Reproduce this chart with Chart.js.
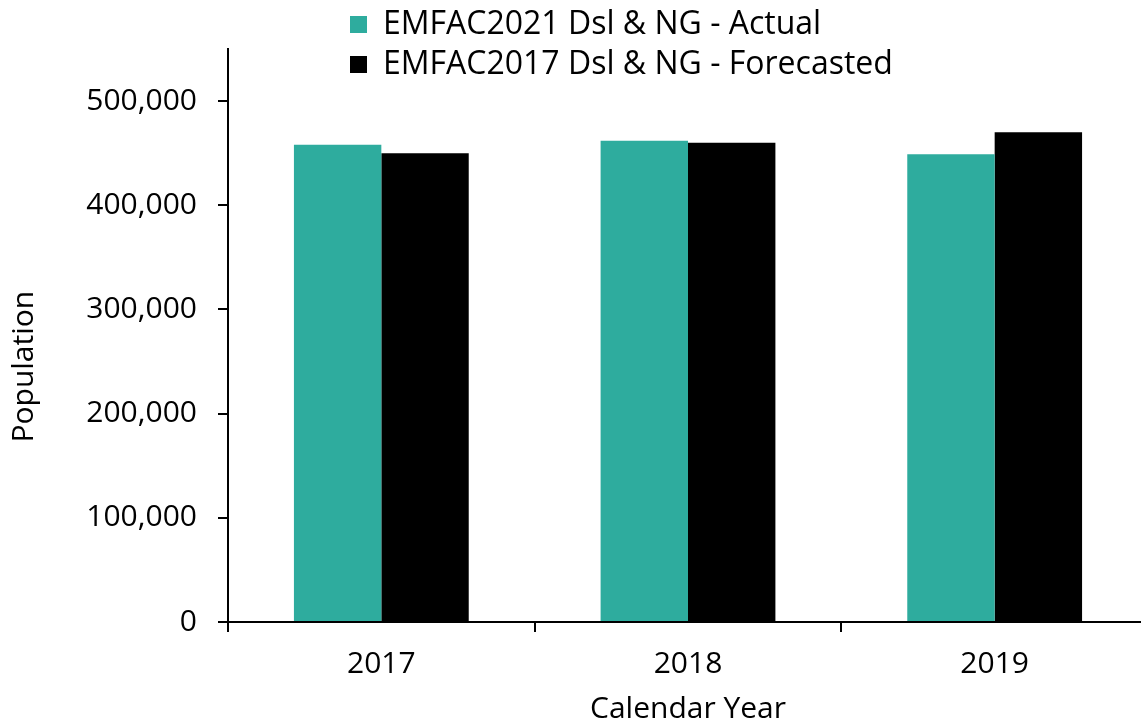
<!DOCTYPE html>
<html><head><meta charset="utf-8">
<script src="https://cdn.jsdelivr.net/npm/chart.js@4"></script>
<style>html,body{margin:0;padding:0;overflow:hidden;background:#fff;width:1141px;height:727px}
#c{position:absolute;left:0;top:0}</style></head>
<body><canvas id="c" width="1150" height="727"></canvas>
<script>
const categories = ['2017', '2018', '2019'];
const actual2021 = [458000, 462000, 449000];
const forecast2017 = [450000, 460000, 470000];
const seriesNames = ['EMFAC2021 Dsl & NG - Actual', 'EMFAC2017 Dsl & NG - Forecasted'];
const yTickValues = [0, 100000, 200000, 300000, 400000, 500000];
const yTitle = 'Population        ';
const xTitle = 'Calendar Year';

const FONT = '"Open Sans", sans-serif';

const legendPlacement = {
  id: 'legendPlacement',
  beforeInit(chart) {
    const fit = chart.legend.fit;
    chart.legend.fit = function () { fit.call(this); this.height = 49; };
  },
  afterLayout(chart) {
    const lg = chart.legend;
    const w = lg.width;
    lg.left = 350 - 8; lg.right = lg.left + w;
    lg.top = 0.5; lg.bottom = 110;
  }
};

new Chart(document.getElementById('c'), {
  type: 'bar',
  data: {
    labels: categories,
    datasets: [
      { label: seriesNames[0], data: actual2021, backgroundColor: '#2EAC9E', borderWidth: 0 },
      { label: seriesNames[1], data: forecast2017, backgroundColor: '#000000', borderWidth: 0 }
    ]
  },
  options: {
    responsive: false,
    animation: false,
    devicePixelRatio: 1,
    layout: { padding: { left: 0, right: 2, top: 0, bottom: 0 } },
    datasets: { bar: { categoryPercentage: 0.57, barPercentage: 1.0 } },
    plugins: {
      legend: {
        position: 'top',
        align: 'start',
        fullSize: false,
        labels: {
          font: { family: FONT, size: 32 },
          color: '#000',
          boxWidth: 17,
          boxHeight: 17,
          padding: 8
        }
      },
      tooltip: { enabled: false }
    },
    scales: {
      x: {
        afterFit: s => { s.height = 105; },
        grid: { display: true, drawOnChartArea: false, drawTicks: true, tickLength: 10, color: '#000', lineWidth: 2, offset: true },
        border: { display: true, color: '#000', width: 2 },
        ticks: { font: { family: FONT, size: 30 }, color: '#000', padding: 14 },
        title: { display: true, text: xTitle, font: { family: FONT, size: 30 }, color: '#000', padding: { top: 0, bottom: 0 } }
      },
      y: {
        min: 0,
        max: 550000,
        afterFit: s => { s.width = 228; },
        afterBuildTicks: s => { s.ticks = yTickValues.map(v => ({ value: v })); },
        grid: { display: true, drawOnChartArea: false, drawTicks: true, tickLength: 10, color: '#000', lineWidth: 2 },
        border: { display: true, color: '#000', width: 2 },
        ticks: {
          font: { family: FONT, size: 30 }, color: '#000', padding: 21,
          callback: v => Number(v).toLocaleString('en-US')
        },
        title: { display: true, text: yTitle, font: { family: FONT, size: 30 }, color: '#000', padding: { top: 6, bottom: 0 } }
      }
    }
  },
  plugins: [legendPlacement]
});
</script>
</body></html>
